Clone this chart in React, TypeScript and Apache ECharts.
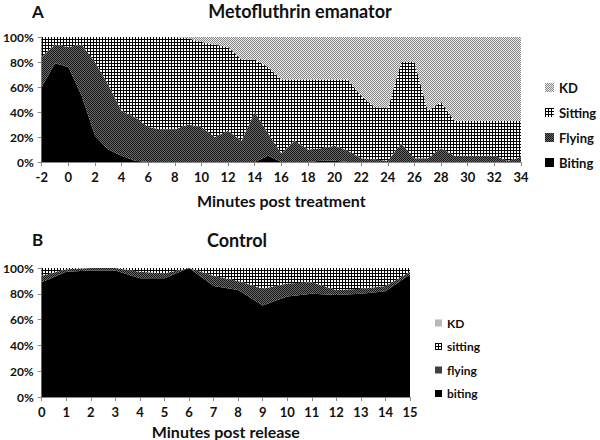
import React, { useEffect, useRef } from "react";
import * as echarts from "echarts";

// ---- Panel A: Metofluthrin emanator ----
const minutesA = ["-2","-1","0","1","2","3","4","5","6","7","8","9","10","11","12","13","14","15","16","17","18","19","20","21","22","23","24","25","26","27","28","29","30","31","32","33","34"];
const bitingA  = [60,79,76,53,21,10,5,1,0,0,0,0,0,0,0,0,0,5,0,0,0,1,1,0,0,0,0,0,0,0,0,0,0,0,0,0,0];
const flyingA  = [24,15,16,41,59,52,36,35,28,26,26,30,28,20,25,17,40,18,7,17,10,10,12,9,3,2,1,15,3,3,11,5,5,5,5,1,4];
const sittingA = [16,6,8,6,20,38,59,64,72,74,74,69,68,74,67,65,42,53,59,49,56,55,53,57,50,42,42,65,77,38,37,28,28,28,28,32,29];
const kdA      = [0,0,0,0,0,0,0,0,0,0,0,1,4,6,8,18,18,24,34,34,34,34,34,34,47,56,57,20,20,59,52,67,67,67,67,67,67];

// ---- Panel B: Control ----
const minutesB = ["0","1","2","3","4","5","6","7","8","9","10","11","12","13","14","15"];
const bitingB  = [89,97,98,98,92,92,100,86,83,71,78,80,79,80,82,95];
const flyingB  = [5,2,2,2,5,4,0,8,7,13,10,9,4,4,4,2];
const sittingB = [6,1,0,0,3,4,0,6,10,16,12,11,17,16,14,3];
const kdB      = [0,0,0,0,0,0,0,0,0,0,0,0,0,0,0,0];

const legendA = ["KD", "Sitting", "Flying", "Biting"];
const legendB = ["KD", "sitting", "flying", "biting"];

const FONT = "Lato, 'Liberation Sans', Arial, sans-serif";

function tile(w: number, h: number, fn: (x: number, y: number) => string) {
  const c = document.createElement("canvas");
  c.width = w;
  c.height = h;
  const ctx = c.getContext("2d")!;
  for (let y = 0; y < h; y++) {
    for (let x = 0; x < w; x++) {
      ctx.fillStyle = fn(x, y);
      ctx.fillRect(x, y, 1, 1);
    }
  }
  return { image: c.toDataURL(), repeat: "repeat", imageWidth: w, imageHeight: h } as any;
}

export default function App() {
  const ref = useRef<HTMLDivElement>(null);

  useEffect(() => {
    document.body.style.margin = "0";
    const chart = echarts.init(ref.current!, null, { renderer: "svg" });

    const kdPat = tile(2, 2, (x, y) => ((x + y) % 2 === 0 ? "#8a8a8a" : "#e8e8e8"));
    const sitPat = tile(3, 3, (x, y) => (x === 0 || y === 0 ? "#000000" : "#ffffff"));
    const flyPat = tile(2, 2, (x, y) => ((x + y) % 2 === 0 ? "#161616" : "#6a6a6a"));
    const bitCol = "#000000";

    const axisLineStyle = { color: "#888888", width: 1 };
    const yLabelStyle = { fontFamily: FONT, fontWeight: "bold" as const, fontSize: 12, color: "#111" };
    const xLabelStyle = { fontFamily: FONT, fontWeight: "bold" as const, fontSize: 13, color: "#111" };
    const nameStyle = { fontFamily: FONT, fontWeight: "bold" as const, fontSize: 16, color: "#111" };

    const mk = (name: string, data: number[], color: any, idx: number, stack: string) => ({
      name,
      type: "line",
      xAxisIndex: idx,
      yAxisIndex: idx,
      stack,
      data,
      symbol: "none",
      lineStyle: { width: 0 },
      itemStyle: { color },
      areaStyle: { color, opacity: 1 },
      emphasis: { disabled: true },
    });

    chart.setOption({
      animation: false,
      title: [
        { text: "A", left: 32, top: 3, padding: 0, textStyle: { fontFamily: FONT, fontWeight: "bold", fontSize: 17, color: "#111" } },
        { text: "Metofluthrin emanator", left: "center", top: 2, padding: 0, textStyle: { fontFamily: FONT, fontWeight: "bold", fontSize: 18, color: "#111" } },
        { text: "B", left: 32, top: 231, padding: 0, textStyle: { fontFamily: FONT, fontWeight: "bold", fontSize: 17, color: "#111" } },
        { text: "Control", left: 207, top: 231, padding: 0, textStyle: { fontFamily: FONT, fontWeight: "bold", fontSize: 18, color: "#111" } },
      ],
      legend: [
        {
          data: legendA.map((n, i) => ({ name: n, itemStyle: { color: [kdPat, sitPat, flyPat, bitCol][i] } })),
          orient: "vertical",
          left: 545,
          top: 81,
          padding: 0,
          icon: "rect",
          itemWidth: 9,
          itemHeight: 9,
          itemGap: 12,
          selectedMode: false,
          textStyle: { fontFamily: FONT, fontWeight: "bold", fontSize: 13, color: "#111" },
        },
        {
          data: legendB.map((n, i) => ({ name: n, itemStyle: { color: [kdPat, sitPat, flyPat, bitCol][i] } })),
          orient: "vertical",
          left: 435,
          top: 317,
          padding: 0,
          icon: "rect",
          itemWidth: 7,
          itemHeight: 7,
          itemGap: 11.5,
          selectedMode: false,
          textStyle: { fontFamily: FONT, fontWeight: "bold", fontSize: 12, color: "#111" },
        },
      ],
      grid: [
        { left: 38, top: 37, width: 483, height: 125 },
        { left: 38, top: 268, width: 372, height: 129.5 },
      ],
      xAxis: [
        {
          type: "category",
          gridIndex: 0,
          data: minutesA,
          boundaryGap: false,
          name: "Minutes post treatment",
          nameLocation: "middle",
          nameGap: 30,
          nameTextStyle: nameStyle,
          axisLine: { lineStyle: axisLineStyle },
          axisTick: { interval: 1, length: 4, lineStyle: axisLineStyle },
          axisLabel: { ...xLabelStyle, interval: 1, margin: 8 },
          splitLine: { show: false },
        },
        {
          type: "category",
          gridIndex: 1,
          data: minutesB,
          boundaryGap: false,
          name: "Minutes post release",
          nameLocation: "middle",
          nameGap: 26,
          nameTextStyle: nameStyle,
          axisLine: { lineStyle: axisLineStyle },
          axisTick: { interval: 0, length: 4, lineStyle: axisLineStyle },
          axisLabel: { ...xLabelStyle, interval: 0, margin: 8 },
          splitLine: { show: false },
        },
      ],
      yAxis: [0, 1].map((g) => ({
        type: "value",
        gridIndex: g,
        min: 0,
        max: 100,
        interval: 20,
        axisLine: { show: true, lineStyle: axisLineStyle },
        axisTick: { show: true, length: 4, lineStyle: axisLineStyle },
        axisLabel: { ...yLabelStyle, margin: 8, formatter: "{value}%" },
        splitLine: { show: false },
      })),
      series: [
        mk("Biting", bitingA, bitCol, 0, "a"),
        mk("Flying", flyingA, flyPat, 0, "a"),
        mk("Sitting", sittingA, sitPat, 0, "a"),
        mk("KD", kdA, kdPat, 0, "a"),
        mk("biting", bitingB, bitCol, 1, "b"),
        mk("flying", flyingB, flyPat, 1, "b"),
        mk("sitting", sittingB, sitPat, 1, "b"),
        mk("KD", kdB, kdPat, 1, "b"),
      ],
    });

    return () => chart.dispose();
  }, []);

  return <div ref={ref} style={{ width: 600, height: 440 }} />;
}
